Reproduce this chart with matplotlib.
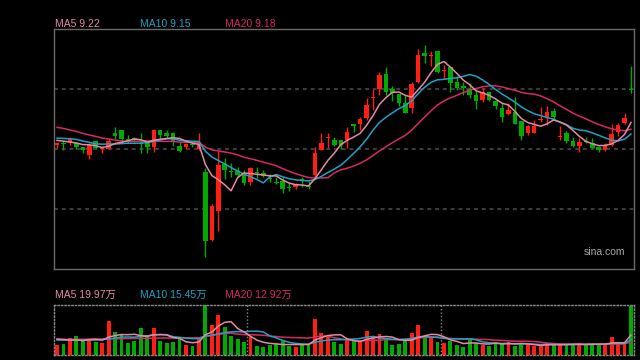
import matplotlib.pyplot as plt
import numpy as np
import pandas as pd

# daily candles (price), 90 sessions
opens = [9.120, 9.130, 9.135, 9.132, 9.110, 9.072, 9.140, 9.099, 9.102, 9.182,
         9.195, 9.149, 9.155, 9.129, 9.129, 9.112, 9.195, 9.182, 9.179, 9.117,
         9.112, 9.127, 9.099, 8.987, 8.645, 8.792, 9.025, 8.987, 8.990, 8.970,
         8.937, 8.982, 8.982, 8.954, 8.937, 8.942, 8.912, 8.909, 8.949, 8.917,
         8.970, 9.095, 9.154, 9.145, 9.145, 9.145, 9.224, 9.225, 9.254, 9.357,
         9.399, 9.475, 9.399, 9.375, 9.332, 9.304, 9.437, 9.579, 9.565, 9.592,
         9.490, 9.509, 9.437, 9.415, 9.400, 9.370, 9.345, 9.387, 9.340, 9.304,
         9.275, 9.287, 9.240, 9.179, 9.179, 9.245, 9.262, 9.290, 9.160, 9.179,
         9.140, 9.115, 9.140, 9.129, 9.109, 9.095, 9.120, 9.187, 9.229, 9.399]
highs = [9.135, 9.142, 9.160, 9.137, 9.112, 9.129, 9.145, 9.115, 9.154, 9.209,
         9.195, 9.170, 9.162, 9.179, 9.142, 9.200, 9.195, 9.195, 9.187, 9.137,
         9.132, 9.137, 9.179, 9.005, 8.825, 9.092, 9.054, 9.032, 9.009, 8.995,
         9.012, 9.009, 8.995, 8.975, 8.959, 8.959, 8.929, 8.932, 8.959, 8.942,
         9.109, 9.179, 9.179, 9.162, 9.145, 9.212, 9.224, 9.259, 9.354, 9.399,
         9.487, 9.509, 9.415, 9.375, 9.370, 9.437, 9.599, 9.620, 9.592, 9.592,
         9.518, 9.509, 9.465, 9.434, 9.429, 9.390, 9.405, 9.392, 9.345, 9.332,
         9.332, 9.362, 9.240, 9.220, 9.245, 9.309, 9.315, 9.304, 9.215, 9.192,
         9.162, 9.154, 9.162, 9.154, 9.115, 9.132, 9.225, 9.229, 9.279, 9.515]
lows = [9.105, 9.095, 9.120, 9.102, 9.082, 9.049, 9.099, 9.079, 9.099, 9.149,
        9.137, 9.129, 9.137, 9.079, 9.079, 9.087, 9.149, 9.154, 9.115, 9.087,
        9.102, 9.109, 9.095, 8.562, 8.642, 8.690, 8.949, 8.959, 8.959, 8.920,
        8.920, 8.954, 8.959, 8.937, 8.925, 8.882, 8.892, 8.899, 8.912, 8.899,
        8.949, 9.095, 9.104, 9.115, 9.099, 9.104, 9.187, 9.195, 9.245, 9.295,
        9.370, 9.370, 9.342, 9.315, 9.279, 9.279, 9.429, 9.529, 9.515, 9.482,
        9.450, 9.387, 9.395, 9.370, 9.355, 9.300, 9.335, 9.342, 9.299, 9.237,
        9.270, 9.225, 9.145, 9.170, 9.179, 9.237, 9.220, 9.249, 9.145, 9.129,
        9.109, 9.087, 9.129, 9.104, 9.087, 9.092, 9.115, 9.165, 9.225, 9.379]
closes = [9.128, 9.127, 9.150, 9.109, 9.097, 9.122, 9.104, 9.104, 9.142, 9.165,
          9.152, 9.145, 9.145, 9.124, 9.109, 9.195, 9.170, 9.165, 9.142, 9.092,
          9.125, 9.122, 9.134, 8.642, 8.815, 9.020, 8.995, 8.984, 8.970, 8.932,
          9.004, 8.979, 8.965, 8.949, 8.929, 8.900, 8.905, 8.925, 8.939, 8.909,
          9.079, 9.132, 9.157, 9.120, 9.120, 9.187, 9.215, 9.249, 9.320, 9.362,
          9.470, 9.385, 9.379, 9.329, 9.279, 9.425, 9.570, 9.565, 9.570, 9.487,
          9.494, 9.432, 9.407, 9.403, 9.370, 9.340, 9.383, 9.345, 9.315, 9.262,
          9.295, 9.225, 9.165, 9.215, 9.215, 9.249, 9.287, 9.259, 9.165, 9.140,
          9.115, 9.137, 9.134, 9.104, 9.095, 9.120, 9.175, 9.220, 9.254, 9.395]
# volume in 万 shares
volumes = [10, 11, 16.7, 19, 15, 15, 13, 12.3, 34, 23,
           20, 12.3, 14.3, 27, 20, 27, 14, 12.3, 13.3, 16.7,
           10, 9, 15.7, 50, 30, 40, 27.7, 19, 15.7, 13,
           17.7, 9, 8.3, 10, 10.7, 14.3, 9, 8.3, 10, 10.7,
           36, 22.3, 18.3, 13.3, 11, 15.7, 14.3, 13.3, 24, 17.7,
           21, 16.7, 10, 11, 14.3, 22.3, 30, 17.7, 19, 13,
           11.7, 14.3, 10, 8.3, 15.7, 11.7, 10, 9, 13, 11.7,
           13, 9, 11, 10, 9, 9, 12, 11, 10, 10,
           11, 12, 10, 11, 10.5, 11, 17.7, 11, 11, 49]

# moving averages before the window starts
ma5_head = [9.143, 9.139, 9.135, 9.130]
ma10_head = [9.154, 9.153, 9.151, 9.148, 9.140, 9.133, 9.126, 9.124, 9.125]
ma20_head = [9.208, 9.203, 9.195, 9.188, 9.178, 9.170, 9.163, 9.155, 9.150, 9.145,
             9.140, 9.138, 9.138, 9.140, 9.140, 9.140, 9.138, 9.138, 9.138]
vma5_head = [16, 15.5, 15, 15]
vma10_head = [15, 15, 15, 15, 15, 15, 15, 15.5, 16]
vma20_head = [15.5, 15.5, 15.6, 15.7, 15.8, 15.9, 16, 16, 16.1, 16.2,
              16.3, 16.4, 16.5, 16.6, 16.7, 16.8, 16.9, 17, 17.1]

month_breaks = [29.5, 59.5]
price_grid = [8.8, 9.1, 9.4]

ma_labels = ['MA5 9.22', 'MA10 9.15', 'MA20 9.18']
vol_labels = ['MA5 19.97万', 'MA10 15.45万', 'MA20 12.92万']

UP = '#ff1e12'
DOWN = '#00aa00'
C5 = '#e48aa2'
C10 = '#1fa2c4'
C20 = '#d82a60'


def with_head(values, n, head):
    s = pd.Series(values).rolling(n).mean()
    s.iloc[:len(head)] = head
    return s


x = np.arange(len(closes))
o = np.array(opens)
c = np.array(closes)
colors = [UP if cc >= oo else DOWN for oo, cc in zip(o, c)]

fig = plt.figure(figsize=(6.4, 3.6), dpi=100, facecolor='black')
ax = fig.add_axes([54 / 640, 1 - 269 / 360, 580 / 640, 240 / 360])
axv = fig.add_axes([54 / 640, 1 - 355 / 360, 580 / 640, 50 / 360])

for a in (ax, axv):
    a.set_facecolor('black')
    a.set_xticks([])
    a.set_yticks([])
    a.set_xlim(-0.47, len(closes) - 0.53)

# price panel
ax.set_ylim(8.5, 9.7)
for g in price_grid:
    ax.axhline(g, color='#3e3e3e', lw=1.4, ls=(0, (2, 2)), zorder=1)
ax.vlines(x, lows, highs, colors=colors, lw=1, zorder=2)
body = np.maximum(np.abs(c - o), 0.004)
ax.bar(x, body, bottom=np.minimum(o, c), width=0.7, color=colors, zorder=3)
ax.plot(x, with_head(closes, 20, ma20_head), color=C20, lw=1.1, zorder=4)
ax.plot(x, with_head(closes, 10, ma10_head), color=C10, lw=1.1, zorder=5)
ax.plot(x, with_head(closes, 5, ma5_head), color=C5, lw=1.1, zorder=6)
for s in ax.spines.values():
    s.set_color('#6a6a6a')
    s.set_linewidth(1)
ax.text(0.985, 0.07, 'sina.com', transform=ax.transAxes, ha='right',
        va='center', color='#a8a8a8', fontsize=7.5, family='Liberation Sans')

# volume panel
axv.set_ylim(0, 50)
axv.bar(x, volumes, width=0.6, color=colors, zorder=2)
for b in month_breaks:
    axv.axvline(b, color='#8a8a8a', lw=1, ls=(0, (1, 1.5)), zorder=1)
axv.plot(x, with_head(volumes, 20, vma20_head), color=C20, lw=1.1, zorder=4)
axv.plot(x, with_head(volumes, 10, vma10_head), color=C10, lw=1.1, zorder=5)
axv.plot(x, with_head(volumes, 5, vma5_head), color=C5, lw=1.1, zorder=6)
for s in axv.spines.values():
    s.set_color('#8a8a8a')
    s.set_linewidth(1)
    s.set_linestyle((0, (1, 1.5)))

# legends above panels
for lab, col, px in zip(ma_labels, [C5, C10, C20], [55, 140, 225]):
    fig.text(px / 640, 1 - 24 / 360, lab, color=col, fontsize=7.5,
             va='center', family=['Liberation Sans', 'Noto Sans CJK SC'])
for lab, col, px in zip(vol_labels, [C5, C10, C20], [55, 140, 225]):
    fig.text(px / 640, 1 - 295 / 360, lab, color=col, fontsize=7.5,
             va='center', family=['Liberation Sans', 'Noto Sans CJK SC'])

fig.savefig('out.png', dpi=100, facecolor='black')
